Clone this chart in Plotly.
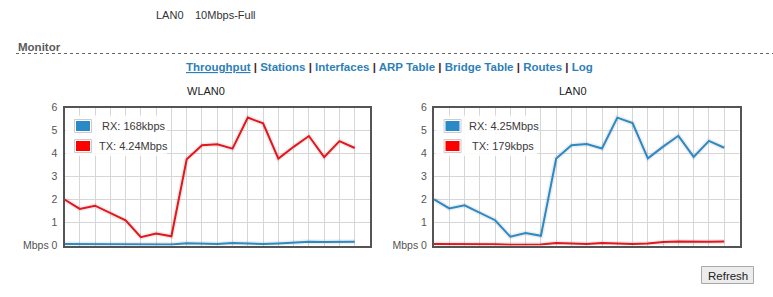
import plotly.graph_objects as go

W, H = 773, 297

# ---------------- data ----------------
sample_idx = list(range(20))
wlan_rx = [0.07, 0.07, 0.07, 0.06, 0.05, 0.04, 0.04, 0.04, 0.10, 0.08,
           0.06, 0.11, 0.08, 0.06, 0.09, 0.14, 0.16, 0.15, 0.15, 0.168]
wlan_tx = [2.00, 1.59, 1.73, 1.42, 1.09, 0.36, 0.52, 0.40, 3.75, 4.36,
           4.40, 4.21, 5.56, 5.31, 3.78, 4.29, 4.76, 3.84, 4.54, 4.24]
lan_rx = [2.01, 1.61, 1.75, 1.44, 1.10, 0.38, 0.54, 0.42, 3.78, 4.36,
          4.41, 4.22, 5.56, 5.32, 3.79, 4.30, 4.77, 3.85, 4.55, 4.25]
lan_tx = [0.07, 0.07, 0.07, 0.06, 0.05, 0.03, 0.04, 0.04, 0.11, 0.08,
          0.06, 0.11, 0.08, 0.07, 0.09, 0.15, 0.17, 0.15, 0.16, 0.179]

chart_titles = ["WLAN0", "LAN0"]
legend_labels = [["\u00a0RX: 168kbps", "TX: 4.24Mbps"],
                 ["RX: 4.25Mbps", "\u00a0TX: 179kbps"]]
y_tickvals = [0, 1, 2, 3, 4, 5, 6]
y_ticktext = ["Mbps 0", "1", "2", "3", "4", "5", "6"]
x_range = [0, 20]
y_range = [0, 6]

status_label = "LAN0"
status_value = "10Mbps-Full"
section_title = "Monitor"
nav_links = ["Throughput", "Stations", "Interfaces", "ARP Table",
             "Bridge Table", "Routes", "Log"]
button_label = "Refresh"

BLUE = "#2b89c6"
RED = "#e8141b"
SW_BLUE = "#2a8ac8"
SW_RED = "#ff0000"
GRID = "#d6d6d6"
FONT = "Liberation Sans, Arial, sans-serif"


def px(x):
    return x / W


def py(y):
    return 1 - y / H


# plot areas (inner, pixels)
left_box = (64.5, 370.0)
right_box = (434.0, 739.5)
top_px, bot_px = 107.5, 245.5

fig = go.Figure()

panels = [
    (wlan_rx, wlan_tx, "x", "y"),
    (lan_rx, lan_tx, "x2", "y2"),
]

# horizontal grid lines built from the y tick values and x range
grid_x, grid_y = [], []
for v in y_tickvals[1:-1]:
    grid_x += [x_range[0], x_range[1], None]
    grid_y += [v, v, None]

for (rx, tx, xa, ya) in panels:
    fig.add_trace(go.Scatter(x=grid_x, y=grid_y, mode="lines",
                             line=dict(color=GRID, width=1),
                             xaxis=xa, yaxis=ya, hoverinfo="skip",
                             showlegend=False, connectgaps=False))
    for series in (rx, tx):
        fig.add_trace(go.Scatter(x=sample_idx, y=series, mode="lines",
                                 line=dict(color="rgba(0,0,0,0.07)", width=5),
                                 xaxis=xa, yaxis=ya, hoverinfo="skip",
                                 showlegend=False))
    for series, col in ((rx, BLUE), (tx, RED)):
        fig.add_trace(go.Scatter(x=sample_idx, y=series, mode="lines",
                                 line=dict(color=col, width=2),
                                 xaxis=xa, yaxis=ya, showlegend=False))

base_axis = dict(showline=True, mirror=True, linecolor="#545454", linewidth=2,
                 gridcolor=GRID, gridwidth=1, zeroline=False,
                 fixedrange=True, automargin=False)

x_common = dict(tickmode="linear", tick0=0, dtick=1, ticks="", showgrid=True,
                showticklabels=False, **base_axis)
y_common = dict(tickmode="array", tickvals=y_tickvals, ticktext=y_ticktext,
                showgrid=False,
                ticks="outside", ticklen=3, tickcolor="rgba(0,0,0,0)",
                tickfont=dict(family=FONT, size=10.5, color="#545454"),
                **base_axis)

fig.update_layout(
    template="none",
    width=W, height=H, autosize=False,
    margin=dict(l=0, r=0, t=0, b=0, pad=0, autoexpand=False),
    paper_bgcolor="white", plot_bgcolor="white",
    showlegend=False,
    font=dict(family=FONT, size=11, color="#333333"),
    xaxis=dict(domain=[px(left_box[0]), px(left_box[1])], range=x_range,
               anchor="y", **x_common),
    yaxis=dict(domain=[py(bot_px), py(top_px)], range=y_range, anchor="x",
               **y_common),
    xaxis2=dict(domain=[px(right_box[0]), px(right_box[1])], range=x_range,
                anchor="y2", **x_common),
    yaxis2=dict(domain=[py(bot_px), py(top_px)], range=y_range, anchor="x2",
                **y_common),
)

shapes = []
annotations = []

# header texts
annotations.append(dict(x=px(154), y=py(15), xref="paper", yref="paper",
                        text=status_label, showarrow=False, xanchor="left",
                        yanchor="middle", font=dict(size=11, color="#333")))
annotations.append(dict(x=px(193), y=py(15), xref="paper", yref="paper",
                        text=status_value, showarrow=False, xanchor="left",
                        yanchor="middle", font=dict(size=11, color="#333")))
annotations.append(dict(x=px(15.5), y=py(46.5), xref="paper", yref="paper",
                        text="<b>" + section_title + "</b>", showarrow=False,
                        xanchor="left", yanchor="middle",
                        font=dict(size=11.5, color="#5a5a5a")))
shapes.append(dict(type="line", xref="paper", yref="paper",
                   x0=px(16), x1=px(773), y0=py(53.5), y1=py(53.5),
                   line=dict(color="#666", width=1, dash="dot")))

sep = " <span style='color:#4a1a2a'>|</span> "
nav_parts = []
for i, name in enumerate(nav_links):
    if i == 0:
        nav_parts.append("<u>" + name + "</u>")
    else:
        nav_parts.append(name)
nav_text = "<b>" + sep.join(nav_parts) + "</b>"
annotations.append(dict(x=px(390), y=py(66.5), xref="paper", yref="paper",
                        text=nav_text, showarrow=False, xanchor="center",
                        yanchor="middle",
                        font=dict(size=11.5, color="#2e7fb8")))

# chart titles
for title, cx, cy in ((chart_titles[0], 205.5, 90.5), (chart_titles[1], 572.5, 91)):
    annotations.append(dict(x=px(cx), y=py(cy), xref="paper", yref="paper",
                            text=title, showarrow=False, xanchor="center",
                            yanchor="middle", font=dict(size=11, color="#222")))

# legends (flot-style boxes)
legend_specs = [
    (left_box[0], 167.0, legend_labels[0], [96.5, 96.5]),
    (right_box[0], 537.0, legend_labels[1], [466.5, 466.5]),
]
for (lx, rxe, labels, text_x) in legend_specs:
    shapes.append(dict(type="rect", xref="paper", yref="paper",
                       x0=px(lx + 1.5), x1=px(rxe), y0=py(115.5), y1=py(156),
                       fillcolor="rgba(255,255,255,0.88)", line=dict(width=0),
                       layer="above"))
    for k, (lab, col) in enumerate(zip(labels, (SW_BLUE, SW_RED))):
        top = 119.5 + 20 * k
        sx = lx + 10
        shapes.append(dict(type="rect", xref="paper", yref="paper",
                           x0=px(sx), x1=px(sx + 17), y0=py(top + 13), y1=py(top),
                           fillcolor="white", line=dict(color="#cccccc", width=1),
                           layer="above"))
        shapes.append(dict(type="rect", xref="paper", yref="paper",
                           x0=px(sx + 1.5), x1=px(sx + 15.5), y0=py(top + 11.5),
                           y1=py(top + 1.5), fillcolor=col, line=dict(width=0),
                           layer="above"))
        annotations.append(dict(x=px(text_x[k]), y=py(top + 6.5), xref="paper",
                                yref="paper", text=lab, showarrow=False,
                                xanchor="left", yanchor="middle",
                                font=dict(size=11, color="#3a3a3a")))

# refresh button
shapes.append(dict(type="rect", xref="paper", yref="paper",
                   x0=px(701.5), x1=px(753.5), y0=py(283.5), y1=py(266.5),
                   fillcolor="#ececec", line=dict(color="#a8a8a8", width=1)))
annotations.append(dict(x=px(727.5), y=py(275.5), xref="paper", yref="paper",
                        text=button_label, showarrow=False, xanchor="center",
                        yanchor="middle", font=dict(size=11.5, color="#222")))

fig.update_layout(shapes=shapes, annotations=annotations)
fig.write_html("out.html", config={"displayModeBar": False, "staticPlot": True})
